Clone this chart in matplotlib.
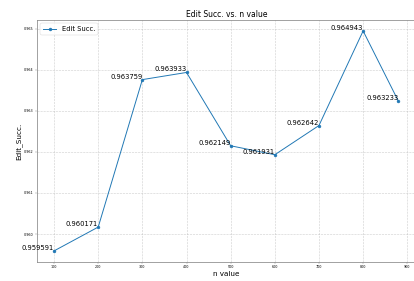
import matplotlib
matplotlib.use("Agg")
import matplotlib.pyplot as plt

n_values = [100, 200, 300, 400, 500, 600, 700, 800, 880]
edit_succ = [0.959591, 0.960171, 0.963759, 0.963933, 0.962149,
             0.961931, 0.962642, 0.964943, 0.963233]

fig = plt.figure(figsize=(12, 8.145), dpi=34.5)
ax = fig.add_axes([0.089, 0.068, 0.915, 0.861])

ax.plot(n_values, edit_succ, marker="o", markersize=6, linewidth=2,
        color="#1f77b4", label="Edit Succ.")

# value labels next to each point
for x, y in zip(n_values, edit_succ):
    ax.text(x, y, f"{y:.6f}", ha="right", va="bottom", fontsize=14)

ax.set_title("Edit Succ. vs. n value", fontsize=16)
ax.set_xlabel("n value", fontsize=15)
ax.set_ylabel("Edit_Succ.", fontsize=15)
ax.set_xticks(range(100, 1000, 100))
ax.set_yticks([0.960, 0.961, 0.962, 0.963, 0.964, 0.965])
ax.tick_params(labelsize=7, color="gray")
for s in ax.spines.values():
    s.set_color("gray")
    s.set_linewidth(1.5)
ax.grid(True, linestyle="--", linewidth=1.2, alpha=0.6)
ax.legend(loc="upper left", fontsize=14)

fig.savefig("out.png", dpi=34.5)
